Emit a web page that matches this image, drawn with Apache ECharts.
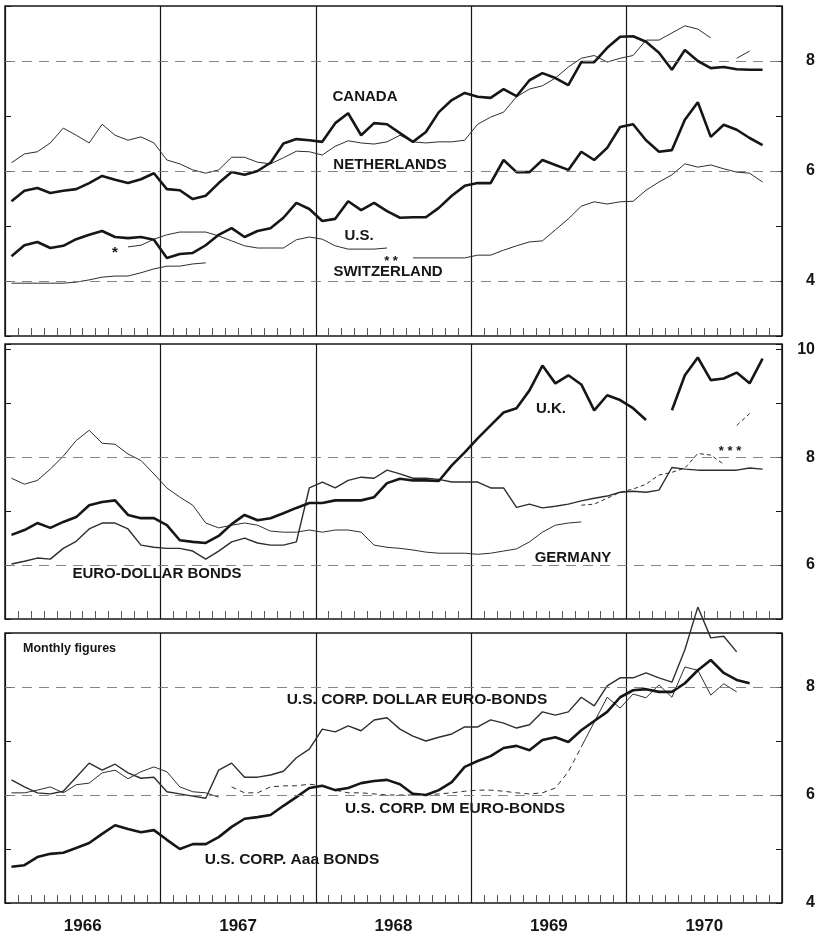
<!DOCTYPE html>
<html>
<head>
<meta charset="utf-8">
<title>Long-term bond yields 1966-1970</title>
<script src="https://cdn.jsdelivr.net/npm/echarts@6/dist/echarts.min.js"></script>
<style>
  html, body { margin: 0; padding: 0; background: #fff; }
  #chart { width: 825px; height: 937px; }
</style>
</head>
<body>
<div id="chart"></div>
<script>
// readings taken once a month (mid-month), month 0 = January 1966
const firstYear = 1966;
const years = ['1966', '1967', '1968', '1969', '1970'];

// --- top panel ---
const canada = [
  5.45, 5.64, 5.69, 5.60, 5.64, 5.67, 5.78, 5.91, 5.84, 5.78, 5.85, 5.96,
  5.67, 5.65, 5.49, 5.55, 5.78, 5.98, 5.93, 6.00, 6.15, 6.50, 6.58, 6.56,
  6.53, 6.87, 7.05, 6.65, 6.87, 6.85, 6.69, 6.53, 6.71, 7.07, 7.29, 7.42,
  7.35, 7.33, 7.49, 7.36, 7.65, 7.78, 7.69, 7.56, 7.98, 7.98, 8.24, 8.44,
  8.45, 8.35, 8.15, 7.84, 8.20, 8.00, 7.87, 7.89, 7.85, 7.84, 7.84
];
const netherlands = [
  6.15, 6.31, 6.35, 6.51, 6.78, 6.65, 6.51, 6.85, 6.65, 6.56, 6.62, 6.51,
  6.20, 6.13, 6.02, 5.96, 6.02, 6.25, 6.25, 6.16, 6.13, 6.24, 6.36, 6.35,
  6.29, 6.45, 6.55, 6.51, 6.49, 6.53, 6.65, 6.53, 6.51, 6.53, 6.53, 6.56,
  6.85, 6.98, 7.07, 7.35, 7.49, 7.55, 7.69, 7.89, 8.05, 8.10, 7.98, 8.05,
  8.10, 8.38, 8.38, 8.51, 8.64, 8.58, 8.42, null, 8.05, 8.18
];
const usGovt = [
  4.45, 4.65, 4.71, 4.60, 4.64, 4.76, 4.84, 4.91, 4.80, 4.78, 4.80, 4.75,
  4.42, 4.49, 4.51, 4.65, 4.84, 4.96, 4.80, 4.91, 4.96, 5.15, 5.42, 5.31,
  5.09, 5.13, 5.45, 5.29, 5.42, 5.27, 5.15, 5.16, 5.16, 5.33, 5.55, 5.73,
  5.78, 5.78, 6.20, 5.98, 5.98, 6.20, 6.11, 6.02, 6.35, 6.20, 6.42, 6.80,
  6.85, 6.56, 6.35, 6.38, 6.93, 7.25, 6.62, 6.84, 6.75, 6.60, 6.47
];
const switzerlandStart = 9;
const switzerland = [
  4.62, 4.65, 4.76,
  4.84, 4.89, 4.89, 4.89, 4.82, 4.73, 4.64, 4.60, 4.60, 4.60, 4.75, 4.80,
  4.76, 4.64, 4.58, 4.58, 4.58, 4.60, null, 4.42, 4.42, 4.42, 4.42, 4.42,
  4.47, 4.47, 4.56, 4.64, 4.71, 4.73, 4.93, 5.13, 5.36, 5.44, 5.40, 5.44,
  5.45, 5.65, 5.80, 5.93, 6.13, 6.07, 6.11, 6.04, 5.98, 5.96, 5.80
];
const switzerlandOld = [
  3.96, 3.96, 3.96, 3.96, 3.96, 3.98, 4.02, 4.07, 4.09, 4.09, 4.15, 4.22,
  4.27, 4.27, 4.31, 4.33
];

// --- middle panel ---
const uk = [
  6.56, 6.65, 6.78, 6.69, 6.80, 6.89, 7.11, 7.17, 7.20, 6.93, 6.87, 6.87,
  6.74, 6.46, 6.43, 6.41, 6.54, 6.76, 6.93, 6.83, 6.87, 6.96, 7.06, 7.15,
  7.15, 7.20, 7.20, 7.20, 7.26, 7.52, 7.60, 7.57, 7.57, 7.56, 7.85, 8.09,
  8.35, 8.59, 8.83, 8.91, 9.24, 9.70, 9.37, 9.52, 9.35, 8.87, 9.15, 9.06,
  8.91, 8.69, null, 8.87, 9.52, 9.85, 9.43, 9.46, 9.57, 9.37, 9.83
];
const germany = [
  7.61, 7.50, 7.57, 7.78, 8.02, 8.31, 8.50, 8.26, 8.24, 8.06, 7.94, 7.69,
  7.43, 7.26, 7.11, 6.78, 6.69, 6.74, 6.78, 6.74, 6.63, 6.61, 6.61, 6.65,
  6.61, 6.65, 6.65, 6.61, 6.37, 6.33, 6.31, 6.28, 6.24, 6.22, 6.22, 6.22,
  6.20, 6.22, 6.26, 6.30, 6.43, 6.61, 6.74, 6.78, 6.80
];
const germanyNewStart = 44;
const germanyNew = [7.11, 7.13, 7.24, 7.35, 7.41, 7.50, 7.67, 7.72, 7.80, 8.07, 8.04, 7.87];
const germanyStarsStart = 56;
const germanyStars = [8.59, 8.81];
const euroDollarBonds = [
  6.02, 6.07, 6.13, 6.11, 6.31, 6.44, 6.67, 6.78, 6.78, 6.67, 6.37, 6.33,
  6.31, 6.31, 6.26, 6.11, 6.26, 6.43, 6.50, 6.41, 6.37, 6.37, 6.43, 7.43,
  7.54, 7.43, 7.57, 7.63, 7.61, 7.76, 7.69, 7.61, 7.61, 7.59, 7.54, 7.54,
  7.54, 7.43, 7.43, 7.07, 7.13, 7.06, 7.09, 7.13, 7.19, 7.24, 7.28, 7.35,
  7.37, 7.35, 7.39, 7.81, 7.78, 7.76, 7.76, 7.76, 7.76, 7.80, 7.78
];

// --- bottom panel (monthly figures) ---
const usCorpAaa = [
  4.67, 4.70, 4.85, 4.91, 4.93, 5.02, 5.11, 5.28, 5.44, 5.37, 5.31, 5.35,
  5.17, 5.00, 5.09, 5.09, 5.22, 5.41, 5.56, 5.59, 5.63, 5.80, 5.96, 6.13,
  6.17, 6.09, 6.13, 6.22, 6.26, 6.28, 6.20, 6.02, 6.00, 6.09, 6.24, 6.52,
  6.63, 6.72, 6.87, 6.91, 6.83, 7.02, 7.07, 6.98, 7.20, 7.37, 7.54, 7.81,
  7.94, 7.96, 7.91, 7.91, 8.07, 8.31, 8.50, 8.26, 8.13, 8.07
];
const usCorpDollarEuro = [
  6.28, 6.15, 6.04, 6.02, 6.07, 6.33, 6.59, 6.46, 6.57, 6.41, 6.31, 6.33,
  6.06, 6.02, 5.98, 5.94, 6.46, 6.59, 6.33, 6.33, 6.37, 6.44, 6.69, 6.85,
  7.22, 7.17, 7.28, 7.19, 7.39, 7.43, 7.22, 7.09, 7.00, 7.07, 7.13, 7.26,
  7.26, 7.39, 7.33, 7.24, 7.30, 7.54, 7.48, 7.54, 7.81, 7.65, 8.02, 8.17,
  8.17, 8.26, 8.17, 8.09, 8.69, 9.48, 8.91, 8.94, 8.65
];
const usCorpDmEuro = [
  6.04, 6.04, 6.09, 6.15, 6.04, 6.19, 6.22, 6.41, 6.46, 6.30, 6.43, 6.52,
  6.43, 6.15, 6.06, 6.04, 5.96, 6.15, 6.04, 6.04, 6.15, 6.17, 6.17, 6.20,
  6.17, 6.09, 6.04, 6.04, 6.02, 6.00, 6.00, 6.00, 6.00, 6.02, 6.04, 6.07,
  6.09, 6.09, 6.07, 6.04, 6.02, 6.04, 6.13, 6.43, 6.89, 7.35, 7.81, 7.61,
  7.87, 7.80, 8.04, 7.81, 8.37, 8.31, 7.85, 8.06, 7.91
];
// the DM series is printed dashed between these months
const dmDashedFrom = 17;
const dmDashedTo = 44;

// right-hand scale labels per panel
const topLabels = [4, 6, 8];
const middleLabels = [6, 8, 10];
const bottomLabels = [4, 6, 8];

const FONT = '"Liberation Sans", Arial, sans-serif';
const INK = '#161616';
const THIN = '#2e2e2e';

const panels = [
  { top: 6, height: 330, min: 3, max: 9, labels: topLabels, guides: [4, 6, 8] },
  { top: 344, height: 275, min: 5, max: 10.1, labels: middleLabels, guides: [6, 8] },
  { top: 633, height: 270, min: 4, max: 9, labels: bottomLabels, guides: [6, 8] }
];

function points(values, start) {
  return values.map((v, i) => [firstYear + (start + i + 0.5) / 12, v]);
}

function line(values, start, panel, width, dash) {
  return {
    type: 'line',
    xAxisIndex: panel,
    yAxisIndex: panel * 2,
    data: points(values, start),
    symbol: 'none',
    silent: true,
    clip: false,
    connectNulls: false,
    lineStyle: { color: width > 2 ? INK : THIN, width: width, type: dash || 'solid' },
    z: width > 2 ? 4 : 3
  };
}

function guideLines(values) {
  return {
    silent: true,
    symbol: 'none',
    label: { show: false },
    lineStyle: { color: '#777', width: 0.9, type: [10, 7] },
    data: values.map(v => ({ yAxis: v }))
  };
}

let dmSolid = usCorpDmEuro.map((v, i) => (i < dmDashedFrom || i >= dmDashedTo) ? v : null);
let dmDashed = usCorpDmEuro.map((v, i) => (i >= dmDashedFrom && i <= dmDashedTo) ? v : null);

const series = [
  line(canada, 0, 0, 2.6),
  line(netherlands, 0, 0, 1),
  line(usGovt, 0, 0, 2.6),
  line(switzerland, switzerlandStart, 0, 1),
  line(switzerlandOld, 0, 0, 1),

  line(uk, 0, 1, 2.6),
  line(germany, 0, 1, 1),
  line(germanyNew, germanyNewStart, 1, 1, [4, 3]),
  line(germanyStars, germanyStarsStart, 1, 1, [4, 3]),
  line(euroDollarBonds, 0, 1, 1.4),

  line(usCorpAaa, 0, 2, 2.6),
  line(usCorpDollarEuro, 0, 2, 1.4),
  line(dmSolid, 0, 2, 1),
  line(dmDashed, 0, 2, 1, [5, 4])
];
series[0].markLine = guideLines(panels[0].guides);
series[5].markLine = guideLines(panels[1].guides);
series[10].markLine = guideLines(panels[2].guides);

const grid = panels.map(p => ({
  left: 5, top: p.top, width: 777, height: p.height,
  show: true, borderColor: INK, borderWidth: 1.5, backgroundColor: 'transparent',
  containLabel: false, outerBoundsMode: 'none'
}));

const xAxis = panels.map((p, i) => ({
  type: 'value', gridIndex: i, position: 'bottom',
  min: 1966, max: 1971, interval: 1,
  axisLine: { show: false },
  axisTick: { show: true, inside: true, length: 8, lineStyle: { color: INK } },
  minorTick: { show: true, splitNumber: 12, length: 8, lineStyle: { color: '#555' } },
  axisLabel: { show: false },
  splitLine: { show: true, lineStyle: { color: INK, width: 1.2 } },
  minorSplitLine: { show: false }
}));
xAxis.push({
  type: 'category', gridIndex: 2, position: 'bottom', data: years, boundaryGap: true,
  axisLine: { show: false }, axisTick: { show: false }, splitLine: { show: false },
  axisLabel: { margin: 15, fontSize: 17, fontWeight: 'bold', fontFamily: FONT, color: INK }
});

const yAxis = [];
panels.forEach((p, i) => {
  yAxis.push({
    type: 'value', gridIndex: i, position: 'right', min: p.min, max: p.max, interval: 1,
    axisLine: { show: false },
    axisTick: { show: true, inside: true, length: 6, lineStyle: { color: INK } },
    splitLine: { show: false },
    axisLabel: {
      margin: 33, align: 'right', fontSize: 16, fontWeight: 'bold', fontFamily: FONT, color: INK,
      formatter: v => p.labels.some(l => Math.abs(l - v) < 1e-6) ? String(Math.round(v)) : ''
    }
  });
  yAxis.push({
    type: 'value', gridIndex: i, position: 'left', min: p.min, max: p.max, interval: 1,
    axisLine: { show: false },
    axisTick: { show: true, inside: true, length: 6, lineStyle: { color: INK } },
    splitLine: { show: false },
    axisLabel: { show: false }
  });
});

// series names written on the chart
const notes = [
  { text: 'CANADA', x: 365, y: 97, size: 15 },
  { text: 'NETHERLANDS', x: 390, y: 165, size: 15 },
  { text: 'U.S.', x: 359, y: 236, size: 15 },
  { text: 'SWITZERLAND', x: 388, y: 272, size: 15 },
  { text: '*', x: 115, y: 253, size: 15 },
  { text: '* *', x: 391, y: 261, size: 13 },
  { text: 'U.K.', x: 551, y: 409, size: 15 },
  { text: 'GERMANY', x: 573, y: 558, size: 15 },
  { text: 'EURO-DOLLAR BONDS', x: 157, y: 574, size: 15 },
  { text: '* * *', x: 730, y: 451, size: 13 },
  { text: 'U.S. CORP. DOLLAR EURO-BONDS', x: 417, y: 700, size: 15.5 },
  { text: 'U.S. CORP. DM EURO-BONDS', x: 455, y: 809, size: 15.5 },
  { text: 'U.S. CORP. Aaa BONDS', x: 292, y: 860, size: 15.5 }
];

const graphic = notes.map(n => ({
  type: 'text', x: n.x, y: n.y, silent: true, z: 10,
  style: {
    text: n.text, fill: INK, align: 'center', verticalAlign: 'middle',
    font: 'bold ' + n.size + 'px ' + FONT
  }
}));
graphic.push({
  type: 'text', x: 23, y: 649, silent: true, z: 10,
  style: { text: 'Monthly figures', fill: INK, align: 'left', verticalAlign: 'middle', font: 'bold 12.5px ' + FONT }
});

const chart = echarts.init(document.getElementById('chart'));
chart.setOption({
  animation: false,
  backgroundColor: '#fff',
  textStyle: { fontFamily: FONT },
  grid: grid,
  xAxis: xAxis,
  yAxis: yAxis,
  series: series,
  graphic: graphic
});
</script>
</body>
</html>
